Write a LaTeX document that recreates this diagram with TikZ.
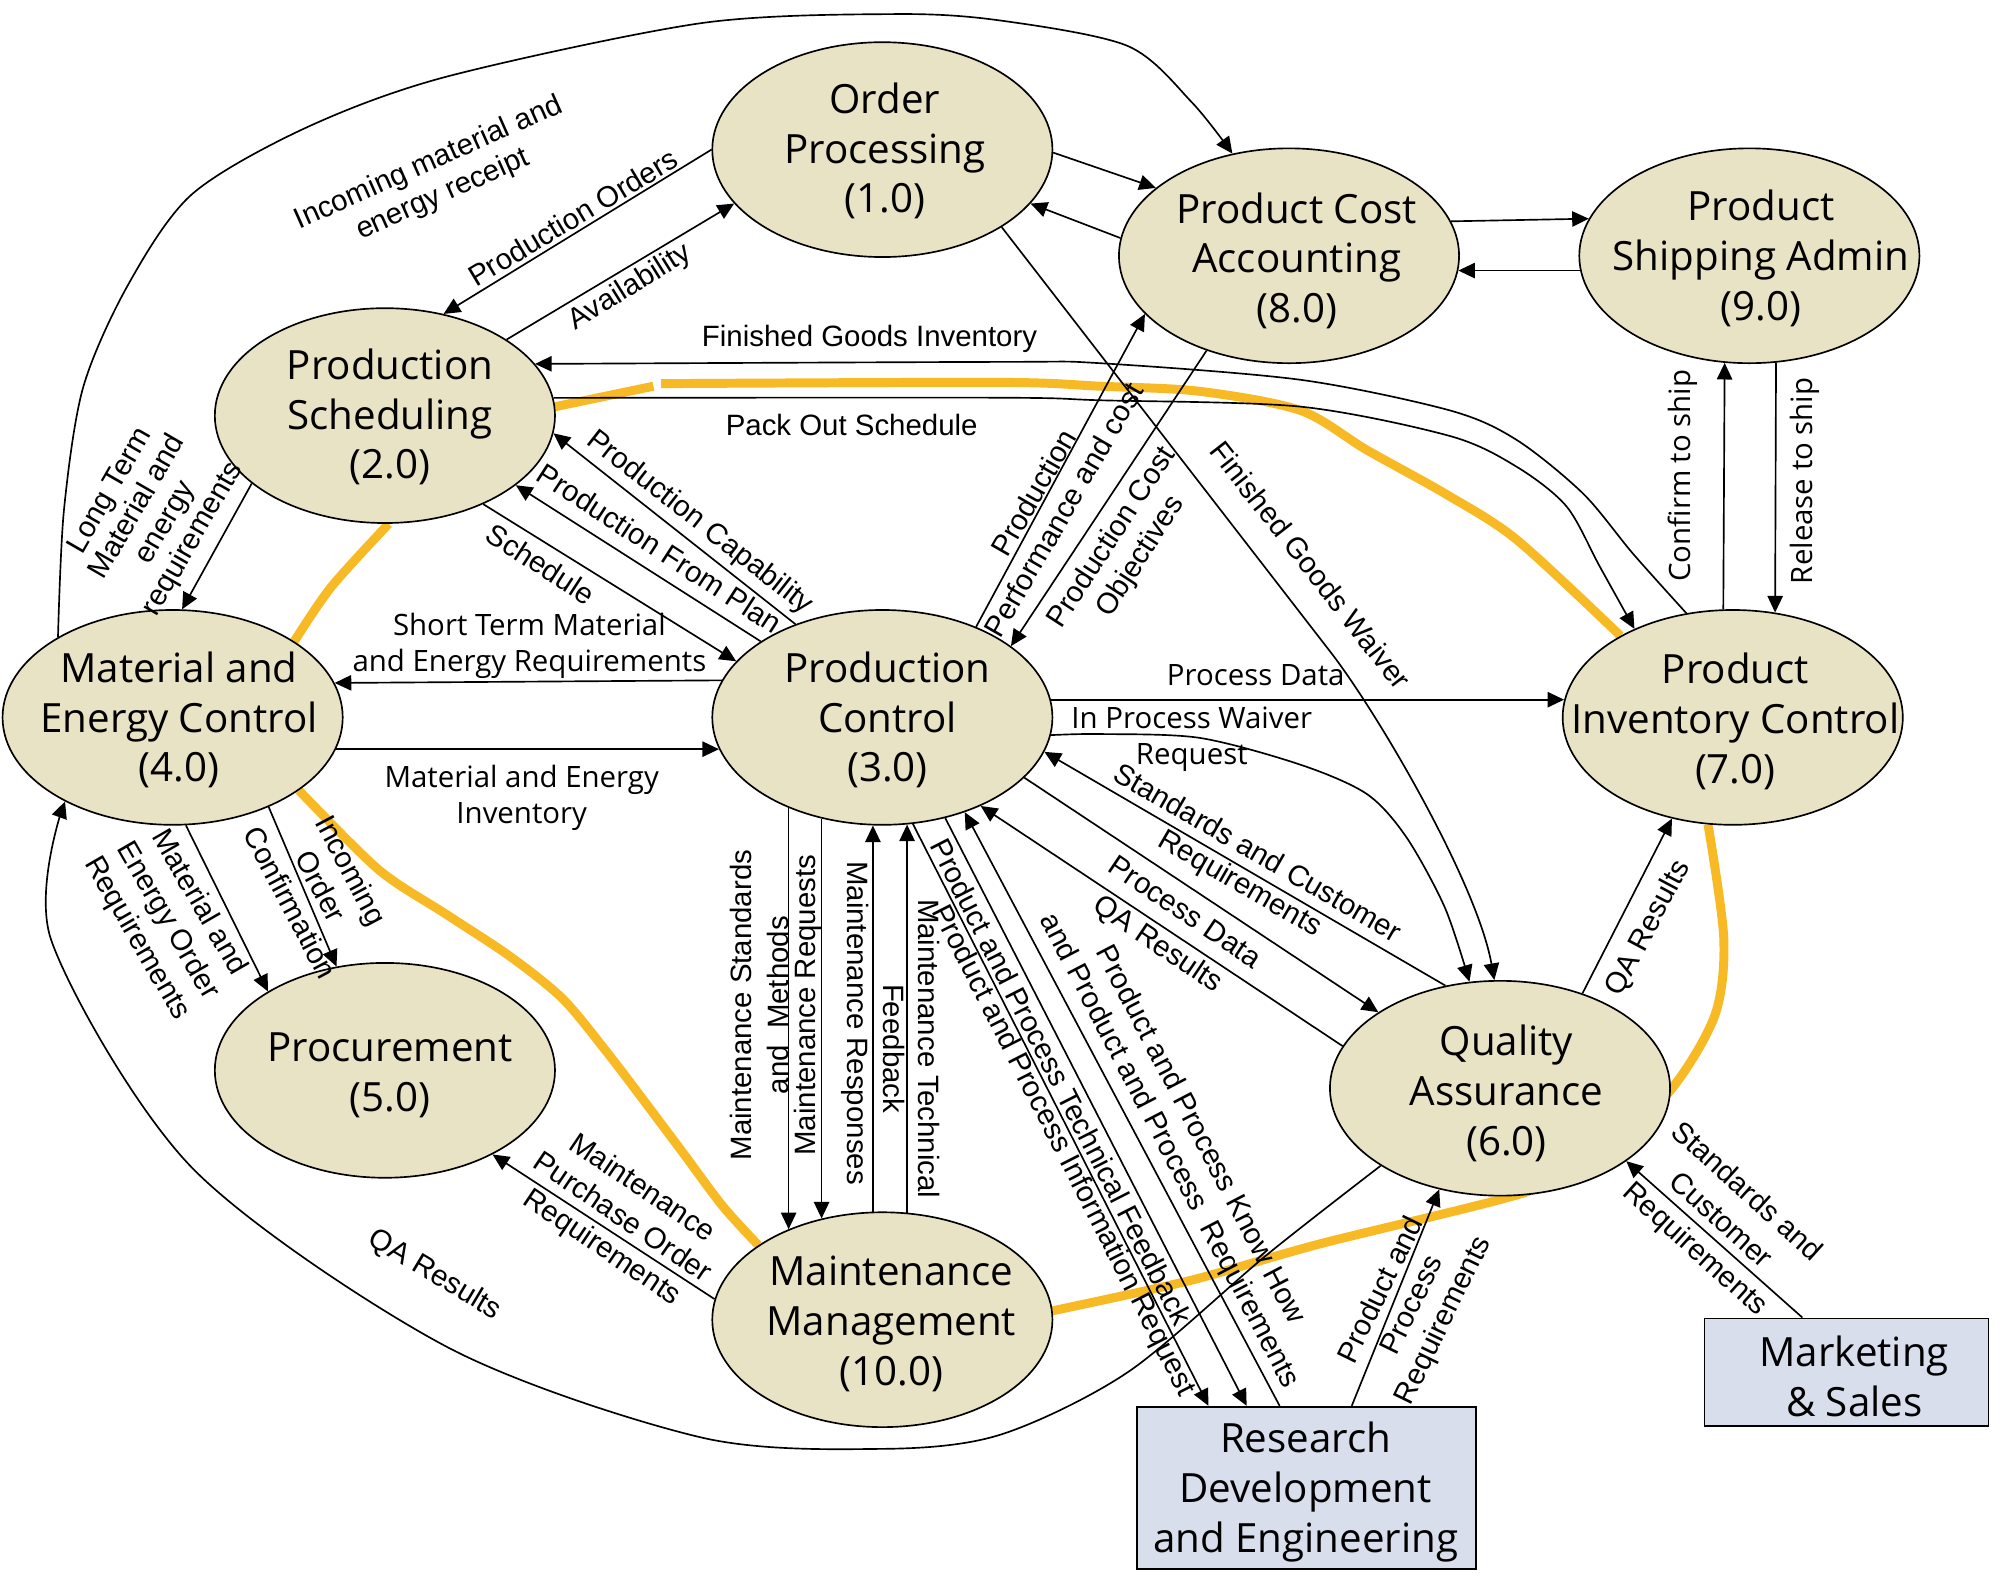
\documentclass[tikz,border=0pt]{standalone}
\usepackage{fontspec}
\setmainfont{Liberation Sans}
\newfontfamily\frut{Open Sans}
\usetikzlibrary{shapes.geometric,arrows.meta,backgrounds}
\definecolor{nodefill}{RGB}{233,227,197}
\definecolor{boxfill}{RGB}{216,222,236}
\definecolor{golden}{RGB}{247,186,36}
\tikzset{
  bubble/.style={ellipse, draw, line width=1.3pt, fill=nodefill, minimum width=266pt, minimum height=168pt, inner sep=0pt},
  extbox/.style={rectangle, draw, line width=1.3pt, fill=boxfill, inner sep=0pt},
  ntext/.style={align=center, inner sep=0pt, font=\frut\fontsize{31.5}{39}\selectfont},
  lab/.style={align=center, inner sep=0pt, font=\fontsize{23}{27}\selectfont},
  flab/.style={align=center, inner sep=0pt, font=\frut\fontsize{23}{28}\selectfont},
  conn/.style={line width=1.3pt, -{Triangle[length=13pt,width=12pt]}},
  goldline/.style={line width=7pt, draw=golden},
}
\begin{document}
\begin{tikzpicture}[x=1pt,y=-1pt]
\useasboundingbox (0,0) rectangle (1564,1240);
% nodes
\node[bubble] (op)  at (690,117) {};
\node[bubble] (ps)  at (301,325) {};
\node[bubble] (me)  at (135,561) {};
\node[bubble] (pc)  at (690,561) {};
\node[bubble] (pca) at (1008,200) {};
\node[bubble] (psa) at (1368,200) {};
\node[bubble] (pic) at (1355,561) {};
\node[bubble] (proc) at (301,837) {};
\node[bubble] (mm)  at (690,1032) {};
\node[bubble] (qa)  at (1173,851) {};
\node[extbox, minimum width=265pt, minimum height=127pt] (rd) at (1021.5,1163.5) {};
\node[extbox, minimum width=222pt, minimum height=84pt] (ms) at (1444,1073) {};
\node[ntext] (op-t)  at (692,118) {Order\\Processing\\(1.0)};
\node[ntext] (ps-t)  at (305,326) {Production\\Scheduling\\(2.0)};
\node[ntext] (me-t)  at (140,563) {Material and\\Energy Control\\(4.0)};
\node[ntext] (pc-t)  at (694,563) {Production\\Control\\(3.0)};
\node[ntext] (pca-t) at (1014,204) {Product Cost\\Accounting\\(8.0)};
\node[ntext] (psa-t) at (1377,202) {Product\\Shipping Admin\\(9.0)};
\node[ntext] (pic-t) at (1357,564) {Product\\Inventory Control\\(7.0)};
\node[ntext] (proc-t) at (305,841) {Procurement\\(5.0)};
\node[ntext] (mm-t)  at (697,1035) {Maintenance\\Management\\(10.0)};
\node[ntext] (qa-t)  at (1178,855) {Quality\\Assurance\\(6.0)};
\node[ntext] (rd-t)  at (1021,1167) {Research\\Development\\and Engineering};
\node[ntext] (ms-t)  at (1450,1076) {Marketing\\\& Sales};
% golden loop
\begin{pgfonlayer}{background}
\fill[white] (0,0) rectangle (1564,1240);
\draw[goldline] (ps.3) -- (511,302);
\draw[goldline] plot[smooth] coordinates {(517,300) (782,299) (860,302) (938,306) (1017,321) (1069,352) (1130,386) (1186,422) (pic.144)};
\draw[goldline] plot[smooth] coordinates {(pic.-103) (1348,734) (1341,794) (1306,853) (1250,905) (1191,933) (1031,973) (932,1001) (mm.3)};
\draw[goldline] plot[smooth] coordinates {(mm.149) (565,943) (533,900) (503,860) (474,822) (440,781) (399,748) (349,715) (296,680) (me.-30)};
\draw[goldline] plot[smooth] coordinates {(me.32) (259,459) (ps.-88)};
\end{pgfonlayer}
% connectors
\draw[conn] plot[smooth] coordinates {(me.145.5) (50,399) (65,303) (100,223) (150,152) (239,100) (349,60) (549,18) (700,11) (782,16) (882,36) (932,80) (pca.119)};
\draw[conn] (op.-1) -- (pca.153);
\draw[conn] (pca.174) -- (op.-20);
\draw[conn] (pca.12.5) -- (psa.167.5);
\draw[conn] (psa.185.8) -- (pca.-5.8);
\draw[conn] (op.180) -- (ps.60);
\draw[conn] (ps.32) -- (op.200);
\draw[conn] plot[smooth] coordinates {(pic.114) (1277,433) (1238,386) (1186,344) (1134,321) (1017,297) (860,284) (782,283) (ps.19.6)};
\draw[conn] plot[smooth] coordinates {(ps.6) (782,311) (860,313) (1017,318) (1134,341) (1186,365) (1225,396) (1251,443) (pic.138)};
\draw[conn] (ps.207) -- (me.85);
\draw[conn] (ps.-42) -- (pc.159);
\draw[conn] (pc.148) -- (ps.-28);
\draw[conn] (pc.133) -- (ps.-6);
\draw[conn] (pc.167.5) -- (me.12.5);
\draw[conn] (me.-11.6) -- (pc.191.6);
\draw[conn] (pc.6) -- (pic.174);
\draw[conn] plot[smooth] coordinates {(pc.-6) (860,574) (938,577) (1017,598) (1069,621) (1100,655) (1130,710) (qa.106)};
\draw[conn] (op.-33) -- (1039,508) .. controls (1076,555) and (1155,690) .. (qa.93);
\draw[conn] (pc.44) -- (pca.202);
\draw[conn] (pca.229) -- (pc.29);
\draw[conn] (pic.95) -- (psa.-103.5);
\draw[conn] (psa.-76.5) -- (pic.68.6);
\draw[conn] (qa.49) -- (pic.-121);
\draw[conn] (qa.118) -- (pc.-12);
\draw[conn] (pc.-23) -- (qa.148);
\draw[conn] (qa.165) -- (pc.-42);
\draw[conn] (pc.-136.5) -- (mm.136.5);
\draw[conn] (pc.-121) -- (mm.121);
\draw[conn] (mm.95) -- (pc.-95);
\draw[conn] (mm.77) -- (pc.-77);
\draw[conn] (pc.-74) -- (rd.140.3);
\draw[conn] (pc.-58) -- (rd.126.2);
\draw[conn] (rd.108.7) -- (pc.-49);
\draw[conn] (rd.61.5) -- (qa.-121);
\draw[conn] plot[smooth] coordinates {(qa.213) (991,981) (882,1073) (782,1122) (690,1133) (548,1124) (349,1053) (150,913) (40,735) (me.218)};
\draw[conn] (ms.129) -- (qa.-30);
\draw[conn] (mm.173.5) -- (proc.-38);
\draw[conn] (me.-83) -- (proc.146.6);
\draw[conn] (me.-43) -- (proc.115);
% labels
\node[lab, rotate=24] (l1) at (341,140) {Incoming material and\\energy receipt};
\node[lab, rotate=31] (l2) at (448,170) {Production Orders};
\node[lab, rotate=32] (l3) at (493,225) {Availability};
\node[lab] (l4) at (680,265) {Finished Goods Inventory};
\node[lab] (l5) at (666,332) {Pack Out Schedule};
\node[lab, rotate=60, font=\fontsize{23}{25}\selectfont] (l6) at (119,403) {Long Term\\Material and\\energy\\requirements};
\node[lab, rotate=-33] (l7) at (423,441) {Schedule};
\node[lab, rotate=-33] (l8) at (516,429) {Production From Plan};
\node[lab, rotate=-38] (l9) at (547,409) {Production Capability};
\node[flab] (l10) at (414,505) {Short Term Material\\and Energy Requirements};
\node[flab] (l11) at (408,624) {Material and Energy\\Inventory};
\node[flab] (l12) at (982,528) {Process Data};
\node[flab] (l13) at (932,578) {In Process Waiver\\Request};
\node[lab, rotate=-52] (l14) at (1025,442) {Finished Goods Waiver};
\node[lab, rotate=60] (l15) at (820,392) {Production\\Performance and cost};
\node[lab, rotate=57] (l16) at (881,428) {Production Cost\\Objectives};
\node[flab, rotate=90] (l17) at (1316,372) {Confirm to ship};
\node[flab, rotate=90] (l18) at (1411,376) {Release to ship};
\node[lab, rotate=62] (l19) at (1289,726) {QA Results};
\node[lab, rotate=-30] (l20) at (976,680) {Standards and Customer\\Requirements};
\node[lab, rotate=-34] (l21) at (927,713) {Process Data};
\node[lab, rotate=-34] (l22) at (905,739) {QA Results};
\node[lab, rotate=90, font=\fontsize{23}{28.5}\selectfont] (l23) at (594,786) {Maintenance Standards\\and\ \ Methods};
\node[lab, rotate=90] (l24) at (632,786) {Maintenance Requests};
\node[lab, rotate=-90] (l25) at (669,800) {Maintenance Responses};
\node[lab, rotate=-90, font=\fontsize{23}{27.5}\selectfont] (l26) at (713,820) {Maintenance Technical\\Feedback};
\node[lab, rotate=-63] (l27) at (831,900) {Product and Process Information Request};
\node[lab, rotate=-63] (l28) at (830,846) {Product and Process Technical Feedback};
\node[lab, rotate=-62.5] (l29) at (926,894) {Product and Process Know How\\and Product and Process\ \ Requirements};
\node[lab, rotate=64] (l30) at (1105,1021) {Product and\\Process\\Requirements};
\node[lab, rotate=-42, font=\fontsize{23}{30}\selectfont] (l31) at (1345,955) {Standards and\\Customer\\Requirements};
\node[lab, rotate=-34, font=\fontsize{23}{28}\selectfont] (l32) at (486,953) {Maintenance\\Purchase Order\\Requirements};
\node[lab, rotate=-60, font=\fontsize{23}{28}\selectfont] (l33) at (131,720) {Material and\\Energy Order\\Requirements};
\node[lab, rotate=-62] (l34) at (251,693) {Incoming\\Order\\Confirmation};
\node[lab, rotate=-31] (l35) at (340,997) {QA Results};
\end{tikzpicture}
\end{document}
